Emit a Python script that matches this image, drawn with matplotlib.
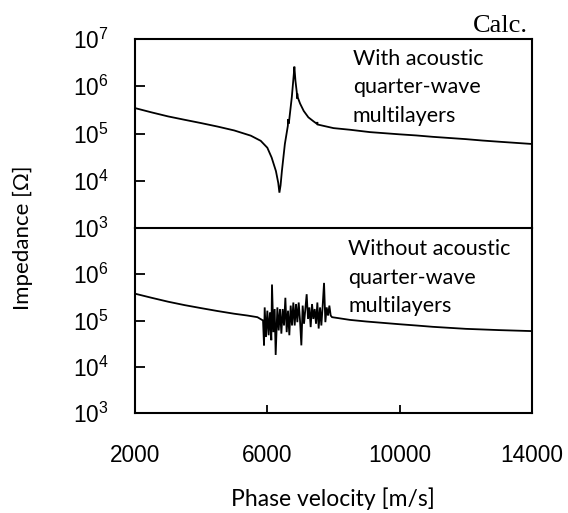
import numpy as np
import matplotlib
matplotlib.use("Agg")
import matplotlib.pyplot as plt

plt.rcParams["mathtext.fontset"] = "custom"
plt.rcParams["mathtext.rm"] = "Liberation Sans"
plt.rcParams["mathtext.default"] = "regular"

# --- data ------------------------------------------------------------------
# with acoustic quarter-wave multilayers (top panel)
v_with = [2000, 2500, 3000, 3500, 4000, 4500, 5000, 5500, 5800, 6000, 6130,
          6260, 6330, 6365, 6400, 6440, 6530, 6620, 6630, 6640, 6660, 6740,
          6800, 6817, 6850, 6890, 6900, 6905, 6920, 6990, 7100, 7240, 7400,
          7500, 7510, 7520, 7700, 8000, 8500, 9100, 10000, 10500, 11000,
          12000, 12500, 13000, 14000]
z_with = [3.45e5, 2.8e5, 2.3e5, 1.95e5, 1.66e5, 1.4e5, 1.16e5, 9.0e4, 7.0e4,
          5.0e4, 3.1e4, 1.6e4, 9.0e3, 5.6e3, 8.0e3, 1.6e4, 6.0e4, 1.45e5,
          2.0e5, 1.6e5, 1.9e5, 5.9e5, 1.8e6, 2.6e6, 1.3e6, 7.5e5, 5.5e5,
          7.0e5, 5.8e5, 4.3e5, 3.0e5, 2.2e5, 1.8e5, 1.6e5, 1.75e5, 1.55e5,
          1.45e5, 1.3e5, 1.2e5, 1.07e5, 9.6e4, 9.1e4, 8.5e4, 7.6e4, 7.1e4,
          6.7e4, 6.0e4]

# without acoustic quarter-wave multilayers (bottom panel)
v_without = [2000, 2500, 3000, 3500, 4000, 4500, 5000, 5400, 5700, 5870,
             5900, 5920, 5960, 6000, 6040, 6080, 6120, 6141, 6182, 6222, 6252,
             6303, 6343, 6383, 6424, 6464, 6504, 6545, 6585, 6625, 6665, 6706,
             6746, 6786, 6827, 6867, 6907, 6948, 6988, 7028, 7068, 7109, 7149,
             7189, 7230, 7270, 7310, 7351, 7391, 7431, 7472, 7512, 7552, 7593,
             7633, 7673, 7714, 7754, 7794, 7835, 7875, 7915, 7956, 8500, 9000,
             10000, 10500, 11000, 12000, 12500, 13000, 14000]
z_without = [3.8e5, 3.1e5, 2.55e5, 2.15e5, 1.85e5, 1.6e5, 1.4e5, 1.28e5,
             1.18e5, 1.0e5, 2.9e4, 1.92e5, 4.4e4, 1.63e5, 4.8e4, 1.5e5, 3.75e4,
             6.0e5, 5.6e4, 1.77e5, 1.8e4, 1.92e5, 6.1e4, 1.77e5, 5.2e4, 1.77e5,
             7.8e4, 3.1e5, 5.6e4, 1.63e5, 4.8e4, 2.1e5, 7.8e4, 2.45e5, 7.8e4,
             2.27e5, 9.2e4, 2.45e5, 1.0e5, 2.9e4, 2.1e5, 8.5e4, 1.77e5, 3.7e5,
             1.08e5, 1.92e5, 7.2e4, 2.27e5, 1.08e5, 1.77e5, 8.5e4, 2.45e5,
             6.7e4, 1.92e5, 7.8e4, 2.1e5, 6.5e5, 9.2e4, 1.92e5, 1.28e5, 2.1e5,
             1.28e5, 1.18e5, 1.03e5, 9.5e4, 8.3e4, 7.8e4, 7.3e4, 6.6e4, 6.4e4,
             6.2e4, 5.9e4]

x_ticks = [2000, 6000, 10000, 14000]
top_yticks = [1e3, 1e4, 1e5, 1e6, 1e7]
bot_yticks = [1e3, 1e4, 1e5, 1e6]

label_top = ["With acoustic", "quarter-wave", "multilayers"]
label_bot = ["Without acoustic", "quarter-wave", "multilayers"]

# --- figure -----------------------------------------------------------------
W, H = 568, 513
fig = plt.figure(figsize = (W / 100, H / 100), dpi = 100)

def px_axes(l, t, r, b):
    return fig.add_axes([l / W, 1 - b / H, (r - l) / W, (b - t) / H])

ax_bot = px_axes(135, 228, 532, 413)
ax_top = px_axes(135, 39, 532, 228)

tick_font = {"family" : "Liberation Sans", "size" : 16.3}
text_family = ["Lato", "DejaVu Sans"]

for ax, v, z, yt in [(ax_top, v_with, z_with, top_yticks),
                     (ax_bot, v_without, z_without, bot_yticks)]:
    ax.patch.set_visible(False)
    ax.plot(v, z, color = "black", lw = 1.3, solid_joinstyle = "miter")
    ax.set_yscale("log")
    ax.set_xlim(2000, 14000)
    ax.set_ylim(1e3, 1e7)
    ax.set_yticks(yt)
    ax.yaxis.set_minor_locator(plt.NullLocator())
    ax.tick_params(axis = "y", direction = "in", length = 7, width = 1.3, pad = 19,
                   labelsize = tick_font["size"])
    ax.tick_params(axis = "x", direction = "in", length = 6, width = 1.3, pad = 22,
                   labelsize = tick_font["size"])
    for lab in ax.get_yticklabels() + ax.get_xticklabels():
        lab.set_family(tick_font["family"])
    for s in ax.spines.values():
        s.set_linewidth(1.5)

ax_top.set_xticks([])
ax_bot.set_xticks(x_ticks)
ax_bot.set_xticklabels([str(t) for t in x_ticks], family = tick_font["family"])
ax_bot.spines["top"].set_visible(False)

for i, line in enumerate(label_top):
    ax_top.text(0.549, [0.862, 0.714, 0.561][i], line, transform = ax_top.transAxes,
                family = text_family, size = 15.5, va = "baseline")
for i, line in enumerate(label_bot):
    ax_bot.text(0.537, [0.854, 0.700, 0.546][i], line, transform = ax_bot.transAxes,
                family = text_family, size = 15.5, va = "baseline")

fig.text(528 / W, 1 - 32 / H, "Calc.", family = "Liberation Serif", size = 19,
         ha = "right", va = "baseline")
fig.text(22.5 / W, 1 - 238 / H, "Impedance [Ω]", family = text_family, size = 16,
         rotation = 90, ha = "center", va = "center")
fig.text(332.5 / W, 1 - 506 / H, "Phase velocity [m/s]", family = text_family, size = 16.5,
         ha = "center", va = "baseline")

fig.savefig("out.png", dpi = 100, facecolor = "w")
